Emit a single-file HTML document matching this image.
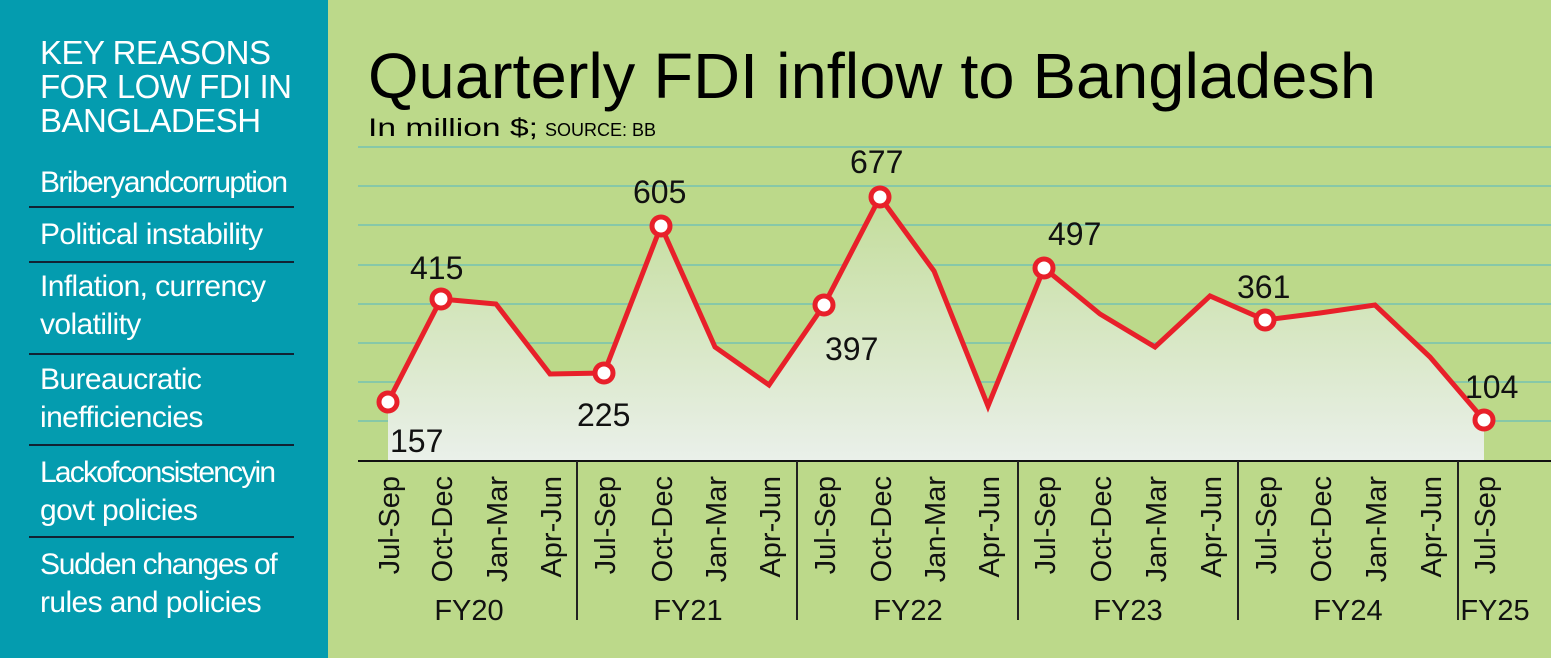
<!DOCTYPE html>
<html><head><meta charset="utf-8"><style>
body{margin:0;width:1551px;height:658px;overflow:hidden;background:#bcd98a;font-family:"Liberation Sans",sans-serif;}
#left{position:absolute;left:0;top:0;width:328px;height:658px;background:#049caf;color:#fff;}
.t{position:absolute;left:40px;font-size:33px;line-height:34px;white-space:nowrap;letter-spacing:-0.5px}
.i{position:absolute;left:40px;font-size:30px;line-height:38px;white-space:nowrap;letter-spacing:-0.6px}
.hr{position:absolute;left:29px;width:265px;height:2px;background:#123;}
</style></head><body>
<div id="left">
<div class="t" style="top:36px">KEY REASONS<br>FOR LOW FDI IN<br>BANGLADESH</div>
<div class="i" style="top:164px;letter-spacing:-1.6px">Briberyandcorruption</div>
<div class="hr" style="top:206px"></div>
<div class="i" style="top:216px">Political instability</div>
<div class="hr" style="top:261px"></div>
<div class="i" style="top:268px">Inflation, currency<br>volatility</div>
<div class="hr" style="top:353px"></div>
<div class="i" style="top:361px">Bureaucratic<br>inefficiencies</div>
<div class="hr" style="top:444px"></div>
<div class="i" style="top:454px;letter-spacing:-1.8px">Lackofconsistencyin<br><span style="letter-spacing:-0.6px">govt policies</span></div>
<div class="hr" style="top:536px"></div>
<div class="i" style="top:546px"><span style="letter-spacing:-1.3px">Sudden changes of</span><br>rules and policies</div>
</div>
<svg width="1551" height="658" style="position:absolute;left:0;top:0" font-family="Liberation Sans, sans-serif">
<defs><linearGradient id="g" x1="0" y1="0" x2="0" y2="1"><stop offset="0" stop-color="#c3dd9a"/><stop offset="1" stop-color="#eaf0ea"/></linearGradient></defs>
<text x="368" y="98" font-size="64" fill="#000" textLength="1008" lengthAdjust="spacingAndGlyphs">Quarterly FDI inflow to Bangladesh</text>
<text x="368" y="136" font-size="25" fill="#000" textLength="170" lengthAdjust="spacingAndGlyphs">In million $;</text>
<text x="545" y="136" font-size="18" fill="#000">SOURCE: BB</text>
<g stroke="#86c8a8" stroke-width="2">
<line x1="358" y1="147" x2="1551" y2="147"/><line x1="358" y1="186" x2="1551" y2="186"/><line x1="358" y1="225" x2="1551" y2="225"/><line x1="358" y1="265" x2="1551" y2="265"/><line x1="358" y1="304" x2="1551" y2="304"/><line x1="358" y1="343" x2="1551" y2="343"/><line x1="358" y1="382" x2="1551" y2="382"/><line x1="358" y1="421" x2="1551" y2="421"/>
</g>
<polygon fill="url(#g)" points="388,461 388,402 441,299 496,304 550,374 604,373 661,226 715,347 769,385 824,305 880,197 934,271 988,406 1044,268 1100,314 1155,347 1210,296 1265,320 1320,313 1375,305 1430,357 1484,420 1484,461"/>
<polyline fill="none" stroke="#e8202a" stroke-width="5" points="388,402 441,299 496,304 550,374 604,373 661,226 715,347 769,385 824,305 880,197 934,271 988,406 1044,268 1100,314 1155,347 1210,296 1265,320 1320,313 1375,305 1430,357 1484,420"/>
<g fill="#fff" stroke="#e8202a" stroke-width="5">
<circle cx="388" cy="402" r="9"/><circle cx="441" cy="299" r="9"/><circle cx="604" cy="373" r="9"/><circle cx="661" cy="226" r="9"/><circle cx="824" cy="305" r="9"/><circle cx="880" cy="197" r="9"/><circle cx="1044" cy="268" r="9"/><circle cx="1265" cy="320" r="9"/><circle cx="1484" cy="420" r="9"/>
</g>
<g font-size="32" fill="#111">
<text x="390" y="452">157</text><text x="410" y="279">415</text><text x="577" y="426">225</text><text x="633" y="203">605</text>
<text x="825" y="360">397</text><text x="850" y="173">677</text><text x="1048" y="245">497</text><text x="1237" y="298">361</text><text x="1465" y="398">104</text>
</g>
<line x1="358" y1="461" x2="1551" y2="461" stroke="#111" stroke-width="2"/>
<g stroke="#222" stroke-width="2"><line x1="577" y1="461" x2="577" y2="620"/><line x1="797" y1="461" x2="797" y2="620"/><line x1="1018" y1="461" x2="1018" y2="620"/><line x1="1238" y1="461" x2="1238" y2="620"/><line x1="1458" y1="461" x2="1458" y2="620"/></g>
<g font-size="29" fill="#111" text-anchor="end">
<text transform="translate(399,476) rotate(-90)">Jul-Sep</text><text transform="translate(452,476) rotate(-90)">Oct-Dec</text><text transform="translate(507,476) rotate(-90)">Jan-Mar</text><text transform="translate(561,476) rotate(-90)">Apr-Jun</text>
<text transform="translate(615,476) rotate(-90)">Jul-Sep</text><text transform="translate(672,476) rotate(-90)">Oct-Dec</text><text transform="translate(726,476) rotate(-90)">Jan-Mar</text><text transform="translate(780,476) rotate(-90)">Apr-Jun</text>
<text transform="translate(835,476) rotate(-90)">Jul-Sep</text><text transform="translate(891,476) rotate(-90)">Oct-Dec</text><text transform="translate(945,476) rotate(-90)">Jan-Mar</text><text transform="translate(999,476) rotate(-90)">Apr-Jun</text>
<text transform="translate(1055,476) rotate(-90)">Jul-Sep</text><text transform="translate(1111,476) rotate(-90)">Oct-Dec</text><text transform="translate(1166,476) rotate(-90)">Jan-Mar</text><text transform="translate(1221,476) rotate(-90)">Apr-Jun</text>
<text transform="translate(1276,476) rotate(-90)">Jul-Sep</text><text transform="translate(1331,476) rotate(-90)">Oct-Dec</text><text transform="translate(1386,476) rotate(-90)">Jan-Mar</text><text transform="translate(1441,476) rotate(-90)">Apr-Jun</text>
<text transform="translate(1495,476) rotate(-90)">Jul-Sep</text>
</g>
<g font-size="29" fill="#111" text-anchor="middle">
<text x="469" y="620">FY20</text><text x="688" y="620">FY21</text><text x="908" y="620">FY22</text><text x="1128" y="620">FY23</text><text x="1348" y="620">FY24</text><text x="1495" y="620">FY25</text>
</g>
</svg>
</body></html>
